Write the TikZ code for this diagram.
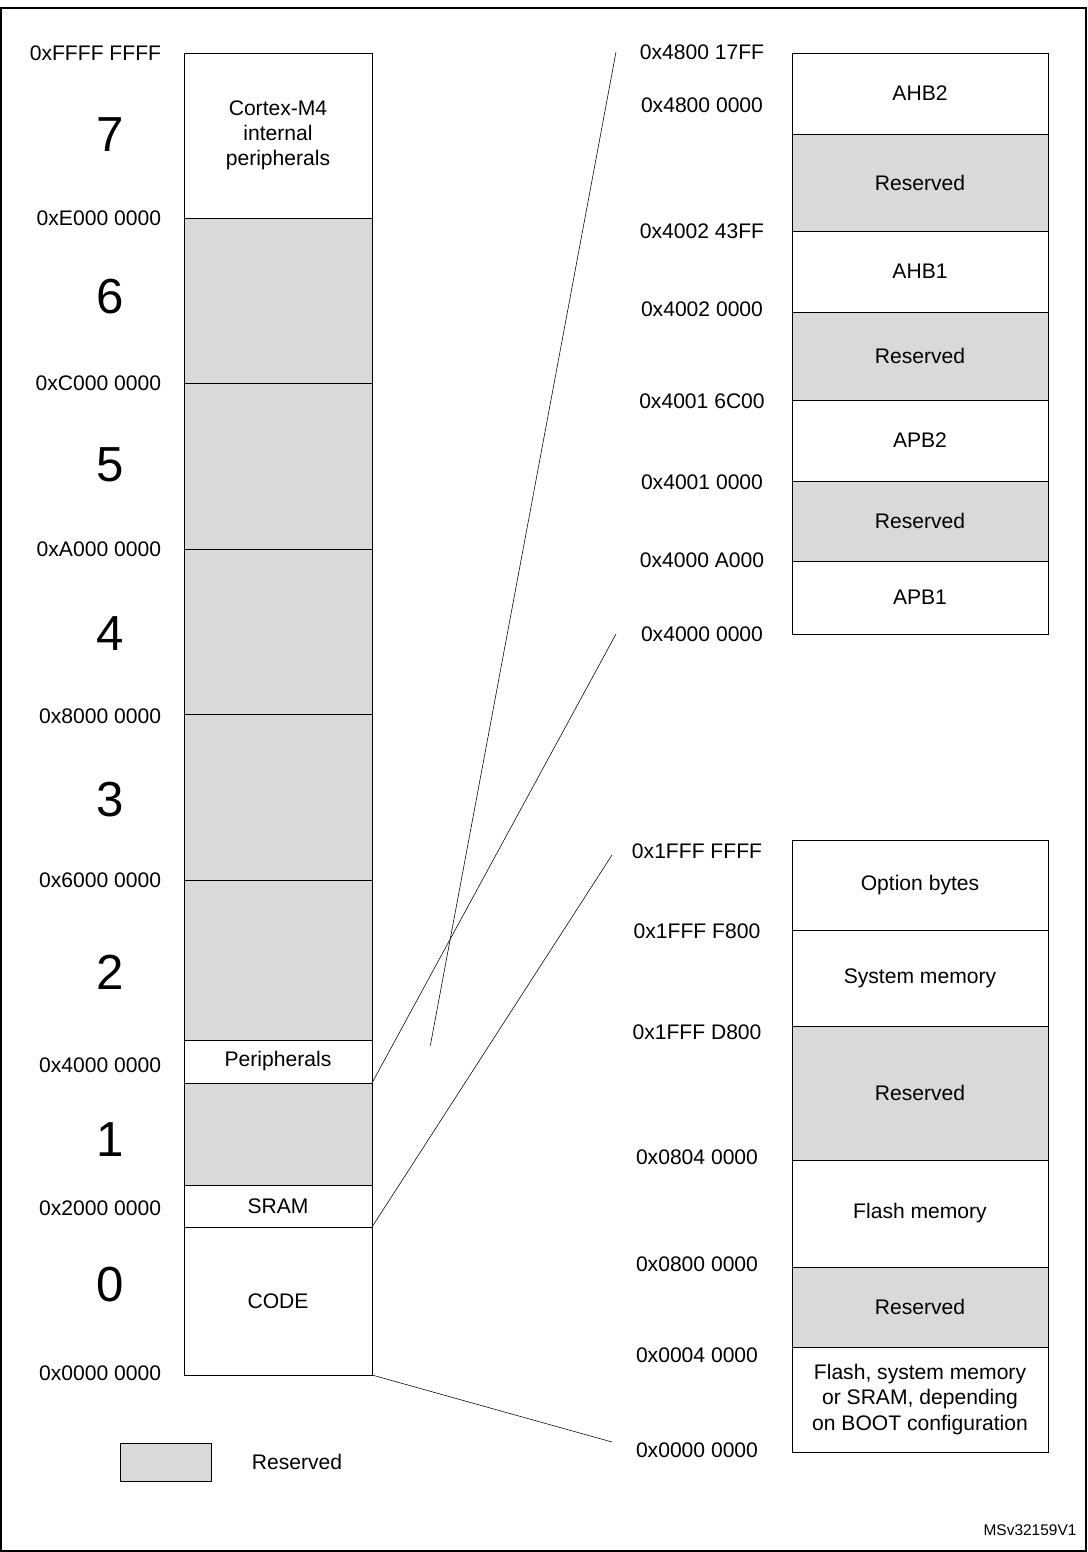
\documentclass[tikz,border=0pt]{standalone}
\usepackage{fontspec}
\setmainfont{Liberation Sans}
\usepackage{tikz}

\begin{document}
\begin{tikzpicture}[x=0.025cm,y=-0.025cm,
    every node/.style={font=\fontsize{15}{18}\selectfont},
    res/.style={fill=gray!30},
    addr/.style={anchor=east},
    bignum/.style={font=\fontsize{35}{40}\selectfont}]
    \useasboundingbox (0,0) rectangle (1087,1552);
    \draw[line width=1pt] (1,8) rectangle (1086,1551);
    % #1 x-left, #2 top, #3 bottom, #4 style, #5 text, #6 name
    \newcommand\seg[6]{
      \draw[#4] (#1,#2) rectangle (#1+\segw,#3);
      \node[align=center] (#6) at (#1+\segw/2,{(#2+#3)/2}) {#5};
    }
    \def\segw{188}
    \seg{184}{53}{218}{}{Cortex-M4\\internal\\peripherals}{m7}
    \seg{184}{218}{383}{res}{}{m6}
    \seg{184}{383}{549}{res}{}{m5}
    \seg{184}{549}{714}{res}{}{m4}
    \seg{184}{714}{880}{res}{}{m3}
    \seg{184}{880}{1040}{res}{}{m2}
    \seg{184}{1040}{1083}{}{Peripherals}{per}
    \seg{184}{1083}{1185}{res}{}{m1}
    \seg{184}{1185}{1227}{}{SRAM}{sram}
    \seg{184}{1227}{1375}{}{CODE}{code}
    \foreach \y/\t in {53/0xFFFF FFFF,218/0xE000 0000,383/0xC000 0000,
      549/0xA000 0000,716/0x8000 0000,880/0x6000 0000,1065/0x4000 0000,
      1208/0x2000 0000,1373/0x0000 0000}
      \node[addr] at (166,\y) {\t};
    \foreach \y/\n in {135/7,297/6,465/5,634/4,800/3,972/2,1140/1,1285/0}
      \node[bignum] at (110,\y) {\n};
    \def\segw{256}
    \seg{792}{53}{134}{}{AHB2}{ahb2}
    \seg{792}{134}{231}{res}{Reserved}{r1}
    \seg{792}{231}{312}{}{AHB1}{ahb1}
    \seg{792}{312}{400}{res}{Reserved}{r2}
    \seg{792}{400}{481}{}{APB2}{apb2}
    \seg{792}{481}{561}{res}{Reserved}{r3}
    \seg{792}{561}{634}{}{APB1}{apb1}
    \foreach \y/\t in {52/0x4800 17FF,105/0x4800 0000,231/0x4002 43FF,
      309/0x4002 0000,401/0x4001 6C00,482/0x4001 0000,560/0x4000 A000,
      634/0x4000 0000}
      \node at (702,\y) {\t};
    \seg{792}{840}{930}{}{Option bytes}{opt}
    \seg{792}{930}{1026}{}{System memory}{sys}
    \seg{792}{1026}{1160}{res}{Reserved}{r4}
    \seg{792}{1160}{1267}{}{Flash memory}{flash}
    \seg{792}{1267}{1347}{res}{Reserved}{r5}
    \seg{792}{1347}{1452}{}{Flash, system memory\\or SRAM, depending\\on BOOT configuration}{boot}
    \foreach \y/\t in {851/0x1FFF FFFF,931/0x1FFF F800,1032/0x1FFF D800,
      1157/0x0804 0000,1264/0x0800 0000,1355/0x0004 0000,1450/0x0000 0000}
      \node at (697,\y) {\t};
    \coordinate (t1) at (616,52);
    \coordinate (t2) at (616,634);
    \coordinate (t3) at (612,855);
    \coordinate (t4) at (612,1442);
    \draw (per.north east) ++(94,-1) -- (t1);
    \draw (372,1083) -- (t2) (372,1227) -- (t3) (372,1375) -- (t4);
    \draw[res] (120,1443) rectangle (211,1481);
    \node (leg) at (297,1462) {Reserved};
    \node[font=\fontsize{11}{13}\selectfont] (id) at (1030,1530) {MSv32159V1};
  \end{tikzpicture}
\end{document}
